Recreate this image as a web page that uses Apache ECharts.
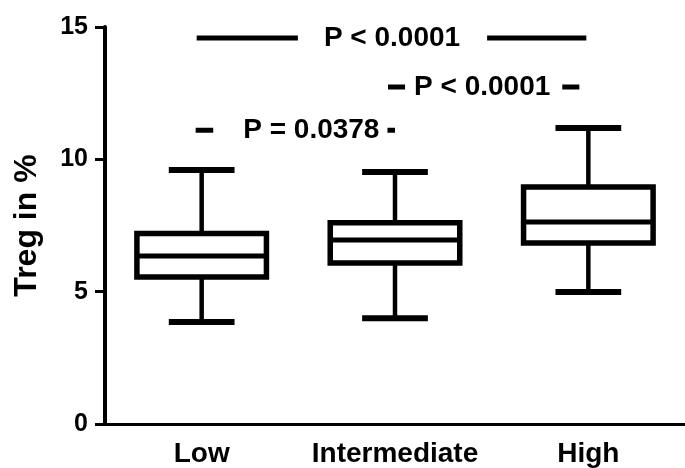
<!DOCTYPE html>
<html><head><meta charset="utf-8">
<script src="https://cdn.jsdelivr.net/npm/echarts@6/dist/echarts.min.js"></script>
<style>html,body{margin:0;padding:0;background:#fff}#c{width:685px;height:468px}</style>
</head><body><div id="c"></div>
<script>
// ---- data ----
const categories = ['Low', 'Intermediate', 'High'];
const whiskerLow = [3.85, 4.0, 4.99];
const q1 = [5.55, 6.08, 6.84];
const median = [6.35, 6.95, 7.63];
const q3 = [7.2, 7.6, 8.95];
const whiskerHigh = [9.6, 9.52, 11.18];
const yMin = 0, yMax = 15, yStep = 5;
const compFrom = [0, 1, 0];
const compTo = [2, 2, 1];
const compY = [14.58, 12.73, 11.1];
const compLabel = ['P < 0.0001', 'P < 0.0001', 'P = 0.0378'];

// ---- styling (not data) ----
const FONT = "'Liberation Sans', Arial, sans-serif";
const compPad = [[0, 27, 0, 26], [0, 12, 0, 9], [0, 8, 0, 30]];
const compDx = [-2.5, -8, 2];
const compExt = [[-5, -2], [-7, -9], [-6, 0]];

const chart = echarts.init(document.getElementById('c'), null, {renderer: 'canvas'});
const boxData = categories.map((c, i) => [i, whiskerLow[i], q1[i], median[i], q3[i], whiskerHigh[i]]);
const compData = compLabel.map((l, k) => [compFrom[k], compTo[k], compY[k]]);

chart.setOption({
  animation: false,
  backgroundColor: '#fff',
  grid: {left: 105, top: 27, width: 591, height: 397},
  xAxis: {
    type: 'category', data: categories,
    axisLine: {lineStyle: {color: '#000', width: 3}},
    axisTick: {alignWithLabel: true, length: 7, lineStyle: {color: '#000', width: 3}},
    axisLabel: {interval: 0, color: '#000', fontFamily: FONT, fontWeight: 'bold', fontSize: 28, margin: 16}
  },
  yAxis: {
    type: 'value', min: yMin, max: yMax, interval: yStep,
    splitLine: {show: false},
    axisLine: {show: true, lineStyle: {color: '#000', width: 4}},
    axisTick: {show: true, length: 10, lineStyle: {color: '#000', width: 3}},
    axisLabel: {color: '#000', fontFamily: FONT, fontWeight: 'bold', fontSize: 25, margin: 17},
    name: 'Treg in %', nameLocation: 'middle', nameGap: 62,
    nameTextStyle: {color: '#000', fontFamily: FONT, fontWeight: 'bold', fontSize: 32}
  },
  series: [
    {
      type: 'custom',
      data: boxData,
      encode: {x: 0, y: [1, 2, 3, 4, 5]},
      renderItem: function (params, api) {
        const i = api.value(0);
        const lo = api.coord([i, api.value(1)]);
        const b1 = api.coord([i, api.value(2)]);
        const m = api.coord([i, api.value(3)]);
        const b3 = api.coord([i, api.value(4)]);
        const hi = api.coord([i, api.value(5)]);
        const band = api.size([1, 0])[0];
        const bw = band * 0.67, cw = band * 0.34;
        const x = lo[0];
        const L = (x1, y1, x2, y2, w) => ({type: 'line', shape: {x1, y1, x2, y2}, style: {stroke: '#000', lineWidth: w, lineCap: 'butt'}});
        return {type: 'group', children: [
          L(x, hi[1], x, b3[1], 4.5),
          L(x, b1[1], x, lo[1], 4.5),
          L(x - cw / 2, hi[1], x + cw / 2, hi[1], 6),
          L(x - cw / 2, lo[1], x + cw / 2, lo[1], 6),
          {type: 'rect', shape: {x: x - bw / 2, y: b3[1], width: bw, height: b1[1] - b3[1]}, style: {fill: '#fff', stroke: '#000', lineWidth: 5.5}},
          L(x - bw / 2, m[1], x + bw / 2, m[1], 5)
        ]};
      }
    },
    {
      type: 'custom',
      data: compData,
      encode: {x: [0, 1], y: 2},
      renderItem: function (params, api) {
        const k = params.dataIndex;
        const a = api.coord([api.value(0), api.value(2)]);
        const b = api.coord([api.value(1), api.value(2)]);
        const cx = (a[0] + b[0]) / 2 + compDx[k];
        return {type: 'group', children: [
          {type: 'line', shape: {x1: a[0] + compExt[k][0], y1: a[1], x2: b[0] + compExt[k][1], y2: b[1]}, style: {stroke: '#000', lineWidth: 5}},
          {type: 'text', x: cx, y: a[1], style: {
            text: compLabel[k], fill: '#000', font: 'bold 28px ' + FONT,
            align: 'center', verticalAlign: 'middle',
            backgroundColor: '#fff', padding: compPad[k]
          }}
        ]};
      }
    }
  ]
});
</script></body></html>
